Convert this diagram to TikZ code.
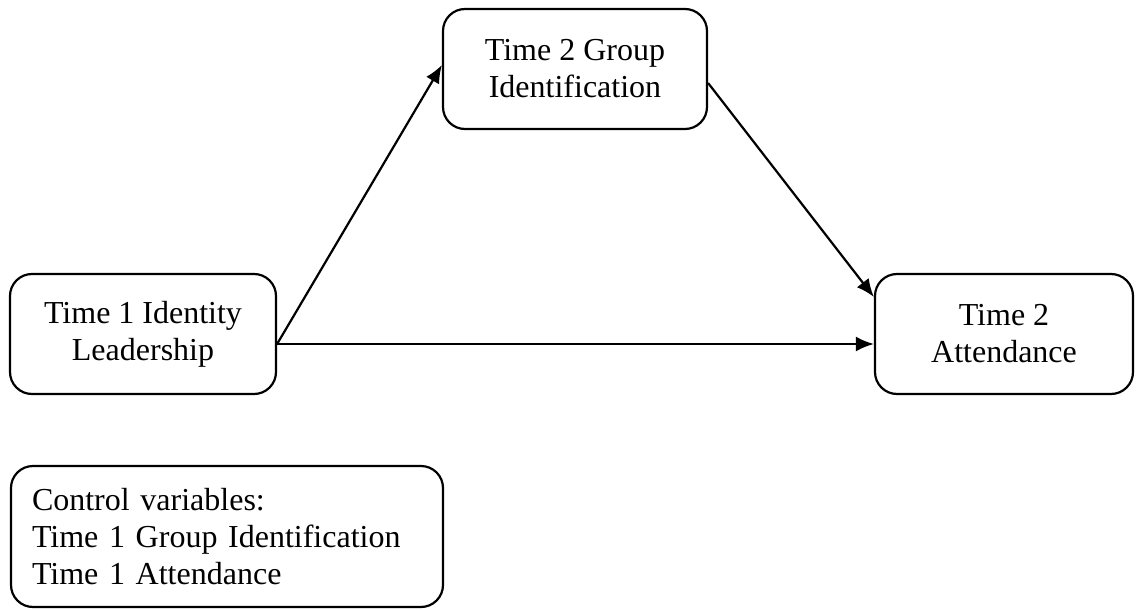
\documentclass[tikz,border=0pt]{standalone}
\usepackage{fontspec}
\setmainfont{Liberation Serif}
\usetikzlibrary{arrows.meta}

\tikzset{
    kotak/.style={draw, line width=2.2pt, rounded corners=22pt, align=center,
        minimum height=120pt, inner sep=0pt, font=\fontsize{32}{37}\selectfont},
    panah/.style={line width=2.2pt, -{Latex[length=18pt,width=15pt]}}
}

\begin{document}
\begin{tikzpicture}
    \useasboundingbox (0pt,0pt) rectangle (1136pt,-610pt);
    % kotak-kotak variabel
    \node[kotak, minimum width=266pt] (L) at (143pt,-334pt) {Time 1 Identity\\Leadership};
    \node[kotak, minimum width=264pt] (T) at (575pt,-69pt) {Time 2 Group\\Identification};
    \node[kotak, minimum width=258pt] (R) at (1004pt,-334pt) {Time 2\\Attendance};
    % kotak kontrol
    \node[kotak, align=left, text width=390pt, inner xsep=21pt, minimum height=141pt] (K) at (227pt,-536.5pt)
        {Control variables:\\Time 1 Group Identification\\Time 1 Attendance};
    
    % pembuatan panah
    \draw[panah] ([yshift=-10pt]L.east) -- ([yshift=4pt]T.west);
    \draw[panah] ([yshift=-10pt]L.east) -- ([yshift=-10pt]R.west);
    \draw[panah] ([yshift=-14pt]T.east) -- ([yshift=37pt]R.west);
\end{tikzpicture}
\end{document}
